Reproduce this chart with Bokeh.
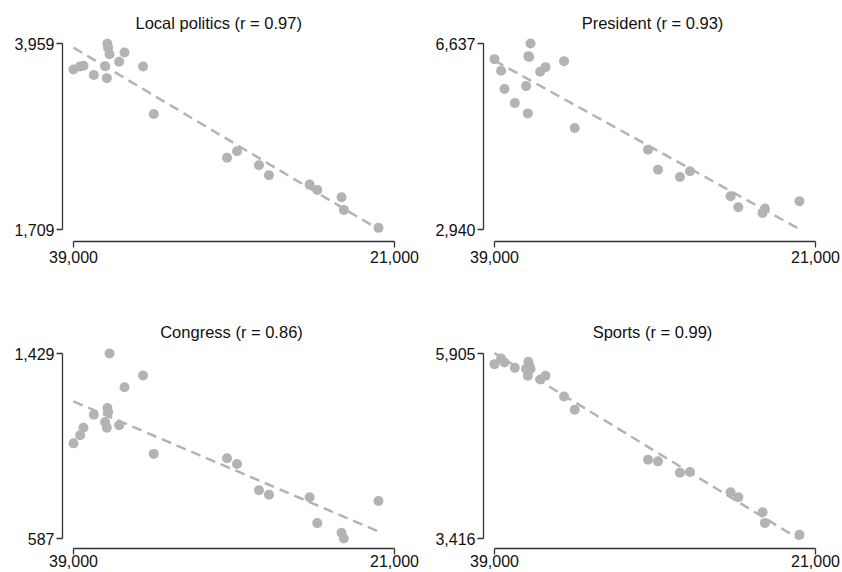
import numpy as np
from bokeh.plotting import figure
from bokeh.layouts import gridplot
from bokeh.models import Range1d, FixedTicker, NumeralTickFormatter
from bokeh.embed import file_html
from bokeh.resources import INLINE

# ---------------- data ----------------
income = [39000, 38630, 38440, 37860, 37230, 37130, 37100, 37060, 36980, 36440, 36140,
          35100, 34500, 30390, 29830, 28600, 28040, 25760, 25330, 23970, 23840, 21900]

local_politics = [3645, 3682, 3690, 3577, 3685, 3540, 3955, 3907, 3830, 3738, 3850,
                  3681, 3106, 2578, 2655, 2486, 2365, 2252, 2188, 2099, 1946, 1729]
president = [6326, 6095, 5731, 5453, 5790, 5248, 6386, 6370, 6637, 6075, 6167,
             6286, 4957, 4527, 4130, 3985, 4097, 3601, 3383, 3270, 3356, 3502]
congress = [1020, 1057, 1091, 1150, 1117, 1091, 1181, 1161, 1429, 1103, 1275,
            1329, 972, 952, 926, 807, 786, 775, 657, 613, 587, 758]
sports = [5762, 5838, 5784, 5712, 5700, 5605, 5793, 5750, 5700, 5556, 5605,
          5327, 5148, 4477, 4454, 4302, 4311, 4038, 3971, 3769, 3626, 3465]

titles = ["Local politics (r = 0.97)", "President (r = 0.93)",
          "Congress (r = 0.86)", "Sports (r = 0.99)"]
series = [local_politics, president, congress, sports]
y_ticks = [[1709, 3959], [2940, 6637], [587, 1429], [3416, 5905]]
x_ticks = [21000, 39000]

# ---------------- styling / geometry ----------------
GRAY = "#b3b3b3"
AXIS = "#333333"
FONT = "Liberation Sans"
FIG_W = 421
BORDER_L, BORDER_R = 62, 21
FRAME_W = FIG_W - BORDER_L - BORDER_R
X_OFF, X_SPAN = 11, 321          # px from frame left to first tick, px between ticks
TITLE_ALIGN = [("left", 73), ("center", 0), ("center", 0), ("center", 3)]

rows = [
    dict(height=309, top=36, bottom=68, y_off=7, y_span=186, x_standoff=3),
    dict(height=263, top=36, bottom=24, y_off=8, y_span=185, x_standoff=0),
]


def make_panel(k):
    r = rows[k // 2]
    x = np.array(income, dtype=float)
    y = np.array(series[k], dtype=float)
    # x range (reversed)
    sx = (max(x_ticks) - min(x_ticks)) / X_SPAN
    xs = max(x_ticks) + X_OFF * sx
    xe = xs - FRAME_W * sx
    # y range
    frame_h = r["height"] - r["top"] - r["bottom"]
    ylo, yhi = y_ticks[k]
    sy = (yhi - ylo) / r["y_span"]
    ye = yhi + r["y_off"] * sy
    ys = ye - frame_h * sy

    p = figure(width=FIG_W, height=r["height"], x_range=Range1d(xs, xe),
               y_range=Range1d(ys, ye), output_backend="svg", toolbar_location=None,
               min_border_left=BORDER_L, min_border_right=BORDER_R,
               min_border_top=r["top"], min_border_bottom=r["bottom"],
               title=titles[k])
    p.scatter(x, y, size=10, fill_color=GRAY, line_color=None)
    slope, intercept = np.polyfit(x, y, 1)
    xl = np.array([x.max(), x.min()])
    p.line(xl, slope * xl + intercept, line_color=GRAY, line_width=2.5,
           line_dash="10 6")

    p.grid.visible = False
    p.outline_line_color = None
    p.background_fill_color = "white"
    p.border_fill_color = "white"

    p.title.align = TITLE_ALIGN[k][0]
    p.title.offset = TITLE_ALIGN[k][1]
    p.title.text_font = FONT
    p.title.text_font_size = "16.5px"
    p.title.text_font_style = "normal"
    p.title.text_color = "#111111"

    p.xaxis.ticker = FixedTicker(ticks=x_ticks)
    p.xaxis.bounds = (min(x_ticks), max(x_ticks))
    p.yaxis.ticker = FixedTicker(ticks=y_ticks[k])
    p.yaxis.bounds = (ylo, yhi)
    for ax in (p.xaxis, p.yaxis):
        ax.formatter = NumeralTickFormatter(format="0,0")
        ax.axis_line_color = AXIS
        ax.axis_line_width = 1.3
        ax.major_tick_line_color = AXIS
        ax.major_tick_line_width = 1.3
        ax.major_tick_out = 6
        ax.major_tick_in = 0
        ax.minor_tick_line_color = None
        ax.major_label_text_font = FONT
        ax.major_label_text_font_size = "16px"
        ax.major_label_text_color = "#111111"
        ax.major_label_standoff = 2
    p.xaxis.major_label_standoff = r["x_standoff"]
    return p


panels = [make_panel(k) for k in range(4)]
grid = gridplot([[panels[0], panels[1]], [panels[2], panels[3]]],
                toolbar_location=None)

open("out.html", "w").write(file_html(grid, INLINE))
